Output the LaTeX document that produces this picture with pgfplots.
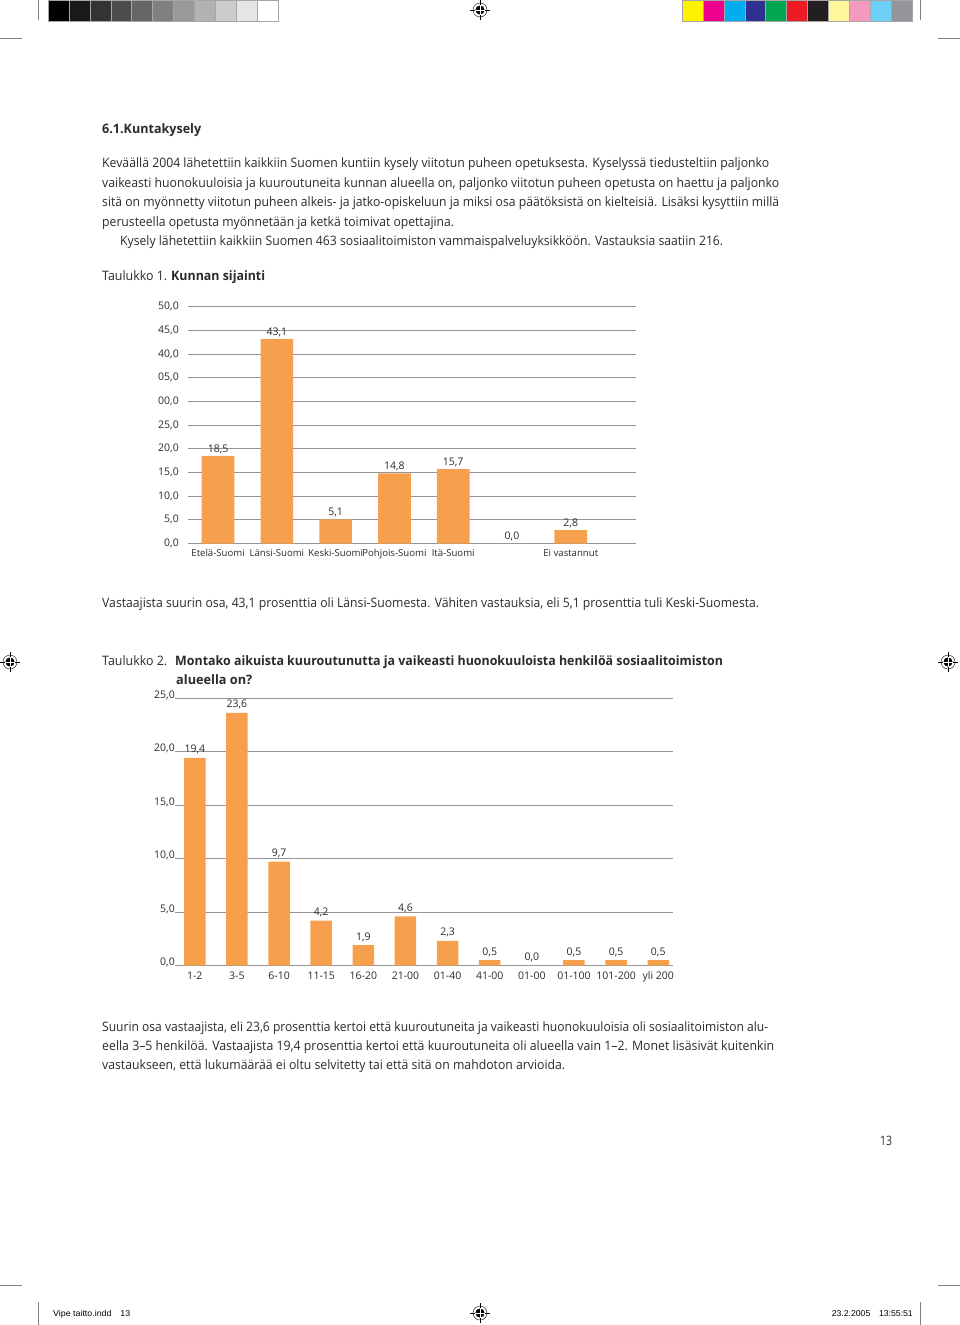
\documentclass[border=0pt]{standalone}
\usepackage{pgfplots}
\pgfplotsset{compat=1.18}
\usepackage{fontspec}
\usepackage{graphicx}
\setmainfont{Open Sans}
\newfontfamily\footfont{Liberation Sans}
\definecolor{txt}{HTML}{2B2B2B}
\definecolor{barc}{HTML}{F6A04E}
\definecolor{gridc}{HTML}{959595}
\newcommand\bodyfont{\fontsize{13}{15}\selectfont}
\newcommand\tl[4]{\node[anchor=base west, inner sep=0pt, text=txt] at (#1,#2) {\resizebox{#3pt}{\height}{\bodyfont #4}};}
\newcommand\regmark[2]{%
  \draw[line width=0.4pt] (#1,#2) circle (7);
  \fill (#1,#2) circle (4.6);
  \draw[line width=0.4pt] (#1-10,#2)--(#1+10,#2) (#1,#2-10)--(#1,#2+10);
  \draw[white, line width=0.5pt] (#1-4.6,#2)--(#1+4.6,#2) (#1,#2-4.6)--(#1,#2+4.6);
}
\pgfplotsset{
  pagechart/.style={
    scale only axis,
    axis line style={draw=none},
    tick style={draw=none},
    major tick length=0pt,
    ymajorgrids,
    major grid style={draw=gridc, line width=0.8pt},
    ticklabel style={font=\fontsize{10.5}{12}\selectfont, text=txt},
    every node near coord/.append style={font=\fontsize{10.5}{12}\selectfont, text=txt, inner sep=1pt, yshift=1pt,
      /pgf/number format/fixed, /pgf/number format/fixed zerofill, /pgf/number format/precision=1,
      /pgf/number format/use comma, /pgf/number format/assume math mode=true},
    clip=false,
  }
}
\begin{document}
\begin{tikzpicture}
\begin{scope}[x=1pt,y=-1pt]
\useasboundingbox (0,0) rectangle (960,1325);
\fill[white] (0,0) rectangle (960,1325);
% --- printer marks ---
\foreach \i/\g in {0/100,1/90,2/80,3/70,4/60,5/50,6/40,7/30,8/20,9/10,10/0}{
  \fill[black!\g] (48+\i*20.9,0) rectangle (48+\i*20.9+20.9,21);
  \draw[gray!70, line width=0.4pt] (48+\i*20.9,0) rectangle (48+\i*20.9+20.9,21);
}
\foreach \i/\c in {0/FFF200,1/EC008C,2/00AEEF,3/2E3192,4/00A651,5/ED1C24,6/231F20,7/FFF799,8/F49AC1,9/6DCFF6,10/939598}{
  \definecolor{pc}{HTML}{\c}
  \fill[pc] (682+\i*20.9,0) rectangle (682+\i*20.9+20.9,21);
  \draw[gray!70, line width=0.4pt] (682+\i*20.9,0) rectangle (682+\i*20.9+20.9,21);
}
\draw[gray, line width=0.5pt] (38,0)--(38,20) (920,0)--(920,20);
\draw[gray, line width=0.5pt] (0,38)--(22,38) (938,38)--(960,38);
\draw[gray, line width=0.5pt] (0,1285)--(22,1285) (938,1285)--(960,1285);
\draw[gray, line width=0.5pt] (38,1302)--(38,1325) (920,1302)--(920,1325);
\regmark{480}{10}
\regmark{10}{662}
\regmark{948}{662}
\regmark{480}{1313}
\node[anchor=base west, inner sep=0pt] at (53,1316.5) {\resizebox{77pt}{\height}{\footfont\fontsize{8.5}{10}\selectfont Vipe taitto.indd\quad 13}};
\node[anchor=base east, inner sep=0pt] at (913,1316.5) {\resizebox{81pt}{\height}{\footfont\fontsize{8.5}{10}\selectfont 23.2.2005\quad 13:55:51}};
% --- text ---
\tl{102}{133}{99}{\bfseries 6.1.Kuntakysely}
\tl{102}{167.5}{667}{Keväällä 2004 lähetettiin kaikkiin Suomen kuntiin kysely viitotun puheen opetuksesta. Kyselyssä tiedusteltiin paljonko}
\tl{102}{187}{677}{vaikeasti huonokuuloisia ja kuuroutuneita kunnan alueella on, paljonko viitotun puheen opetusta on haettu ja paljonko}
\tl{102}{206.5}{677}{sitä on myönnetty viitotun puheen alkeis- ja jatko-opiskeluun ja miksi osa päätöksistä on kielteisiä. Lisäksi kysyttiin millä}
\tl{102}{226}{352}{perusteella opetusta myönnetään ja ketkä toimivat opettajina.}
\tl{120}{245}{603}{Kysely lähetettiin kaikkiin Suomen 463 sosiaalitoimiston vammaispalveluyksikköön. Vastauksia saatiin 216.}
\tl{102}{280.5}{65}{Taulukko 1.}
\tl{171}{280.5}{94}{\bfseries Kunnan sijainti}
\tl{102}{607.5}{657}{Vastaajista suurin osa, 43,1 prosenttia oli Länsi-Suomesta. Vähiten vastauksia, eli 5,1 prosenttia tuli Keski-Suomesta.}
\tl{102}{665.5}{65}{Taulukko 2.}
\tl{175}{665.5}{548}{\bfseries Montako aikuista kuuroutunutta ja vaikeasti huonokuuloista henkilöä sosiaalitoimiston}
\tl{176}{684.5}{76}{\bfseries alueella on?}
\tl{102}{1031.5}{666}{Suurin osa vastaajista, eli 23,6 prosenttia kertoi että kuuroutuneita ja vaikeasti huonokuuloisia oli sosiaalitoimiston alu-}
\tl{102}{1050.5}{672}{eella 3–5 henkilöä. Vastaajista 19,4 prosenttia kertoi että kuuroutuneita oli alueella vain 1–2. Monet lisäsivät kuitenkin}
\tl{102}{1069.5}{463}{vastaukseen, että lukumäärää ei oltu selvitetty tai että sitä on mahdoton arvioida.}
\tl{880}{1145.5}{12}{13}
\end{scope}
% --- chart 1 ---
\begin{axis}[pagechart,
  at={(187.5pt,-543.5pt)}, anchor=south west,
  width=448.5pt, height=237pt,
  ymin=0, ymax=50, xmin=-0.52, xmax=7.11,
  ytick={0,5,...,50},
  yticklabels={{0,0},{5,0},{10,0},{15,0},{20,0},{25,0},{00,0},{05,0},{40,0},{45,0},{50,0}},
  yticklabel style={anchor=east, inner sep=0pt, xshift=-8.5pt},
  xtick={0,...,6},
  xticklabels={Etelä-Suomi,Länsi-Suomi,Keski-Suomi,Pohjois-Suomi,Itä-Suomi,,Ei vastannut},
  xticklabel style={anchor=north, inner sep=0pt, yshift=-5.5pt, font=\fontsize{9.6}{11}\selectfont},
]
\addplot[ybar, bar width=32.7pt, bar shift=0pt, fill=barc, draw=none, nodes near coords]
  coordinates {(0,18.5)(1,43.1)(2,5.1)(3,14.8)(4,15.7)(5,0)(6,2.8)};
\end{axis}
% --- chart 2 ---
\begin{axis}[pagechart,
  at={(175pt,-965.5pt)}, anchor=south west,
  width=498pt, height=267.5pt,
  ymin=0, ymax=25, xmin=-0.47, xmax=11.35,
  ytick={0,5,...,25},
  yticklabels={{0,0},{5,0},{10,0},{15,0},{20,0},{25,0}},
  yticklabel style={anchor=base east, inner sep=0pt},
  xtick={0,...,11},
  xticklabels={1-2,3-5,6-10,11-15,16-20,21-00,01-40,41-00,01-00,01-100,101-200,yli 200},
  xticklabel style={anchor=north, inner sep=0pt, yshift=-6pt},
  every node near coord/.append style={yshift=1.5pt},
]
\addplot[ybar, bar width=21.5pt, bar shift=0pt, fill=barc, draw=none, nodes near coords]
  coordinates {(0,19.4)(1,23.6)(2,9.7)(3,4.2)(4,1.9)(5,4.6)(6,2.3)(7,0.5)(8,0)(9,0.5)(10,0.5)(11,0.5)};
\end{axis}
\end{tikzpicture}
\end{document}
